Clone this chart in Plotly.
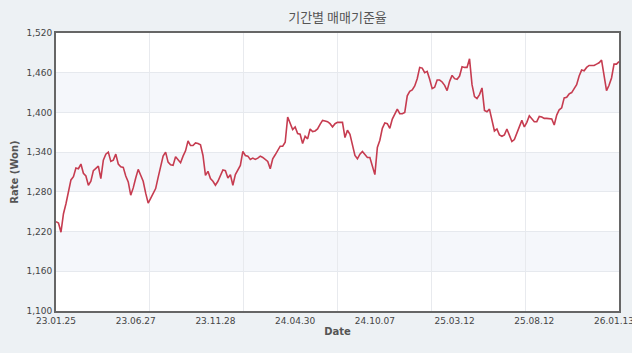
import plotly.graph_objects as go

# Daily base rate (KRW per USD), sampled along the period shown
rate = [
    1235, 1233, 1219, 1247, 1262, 1280, 1298, 1303, 1316, 1315,
    1322, 1308, 1304, 1290, 1296, 1312, 1316, 1319, 1300, 1328,
    1337, 1340, 1326, 1328, 1337, 1322, 1318, 1317, 1304, 1295,
    1275, 1286, 1301, 1314, 1305, 1296, 1278, 1263, 1270, 1277,
    1285, 1302, 1317, 1334, 1340, 1325, 1321, 1320, 1333, 1328,
    1324, 1334, 1342, 1357, 1350, 1350, 1354, 1353, 1351, 1335,
    1305, 1311, 1300, 1296, 1290, 1296, 1306, 1313, 1312, 1301,
    1306, 1290, 1306, 1312, 1320, 1341, 1335, 1334, 1329, 1331,
    1329, 1331, 1334, 1332, 1329, 1326, 1315, 1330, 1336, 1342,
    1349, 1349, 1355, 1393, 1383, 1374, 1378, 1368, 1367, 1353,
    1364, 1360, 1375, 1371, 1372, 1375, 1382, 1388, 1387, 1386,
    1383, 1378, 1383, 1385, 1385, 1385, 1362, 1373, 1367, 1350,
    1335, 1330, 1337, 1341, 1336, 1332, 1332, 1320, 1306, 1347,
    1358, 1376, 1384, 1383, 1376, 1390, 1398, 1405, 1398, 1398,
    1400, 1425, 1432, 1434, 1440, 1451, 1468, 1467, 1460, 1462,
    1450, 1436, 1438, 1449, 1449, 1446, 1441, 1433, 1447, 1456,
    1451, 1450, 1455, 1469, 1468, 1468, 1481, 1442, 1424, 1421,
    1427, 1437, 1403, 1401, 1405, 1390, 1372, 1375, 1366, 1364,
    1366, 1375, 1366, 1356, 1359, 1369, 1376, 1388, 1378, 1385,
    1395, 1390, 1386, 1386, 1394, 1393, 1391, 1391, 1391, 1390,
    1381, 1396, 1404, 1407, 1422, 1423, 1428, 1430, 1436, 1442,
    1455, 1464, 1463, 1468, 1471, 1471, 1471, 1473, 1475, 1479,
    1455, 1433, 1441, 1452, 1473, 1473, 1477,
]

tick_labels = ["23.01.25", "23.06.27", "23.11.28", "24.04.30",
               "24.10.07", "25.03.12", "25.08.12", "26.01.13"]
label_step = 32
y_ticks = [1100, 1160, 1220, 1280, 1340, 1400, 1460, 1520]

idx = list(range(len(rate)))
tick_pos = [i * label_step for i in range(len(tick_labels))]

fig = go.Figure()
fig.add_trace(go.Scatter(
    x=idx, y=rate, mode="lines",
    line=dict(color="#c63c50", width=1.6),
    hoverinfo="skip", showlegend=False,
))

# alternating horizontal bands
shapes = []
for lo, hi in [(y_ticks[1], y_ticks[2]), (y_ticks[3], y_ticks[4]), (y_ticks[5], y_ticks[6])]:
    shapes.append(dict(type="rect", xref="paper", yref="y", x0=0, x1=1, y0=lo, y1=hi,
                       fillcolor="#f5f7fb", line=dict(width=0), layer="below"))

tick_font = dict(family="DejaVu Sans", size=9, color="#444")
last = len(rate) - 1

fig.update_layout(
    width=632, height=353,
    margin=dict(l=56, r=11, t=33, b=42),
    paper_bgcolor="#edf1f4",
    plot_bgcolor="#ffffff",
    title=dict(text="기간별 매매기준율", x=0.5, xref="paper", y=1 - 17 / 353, yanchor="middle",
               font=dict(family="Noto Sans CJK KR", size=13, color="#555")),
    shapes=shapes,
    xaxis=dict(
        range=[0, last], tickmode="array", tickvals=tick_pos, ticktext=tick_labels,
        showgrid=False, zeroline=False, ticks="", tickfont=tick_font,
        ticklabeloverflow="allow", automargin=False,
        showline=True, linecolor="#666", linewidth=2, mirror=True,
        minor=dict(tickmode="linear", tick0=0, dtick=last / 6, showgrid=True,
                   gridcolor="#e8eaee", gridwidth=1, ticks=""),
        title=dict(text="<b>Date</b>", standoff=3,
                   font=dict(family="DejaVu Sans", size=10, color="#555")),
    ),
    yaxis=dict(
        range=[y_ticks[0], y_ticks[-1]], tickmode="array", tickvals=y_ticks,
        tickformat=",d", showgrid=True, gridcolor="#e6e9ee", gridwidth=1,
        zeroline=False, ticks="", tickfont=tick_font,
        showline=True, linecolor="#666", linewidth=2, mirror=True,
        title=dict(text="<b>Rate (Won)</b>", standoff=6,
                   font=dict(family="DejaVu Sans", size=10, color="#555")),
    ),
)

fig.write_html("out.html")
